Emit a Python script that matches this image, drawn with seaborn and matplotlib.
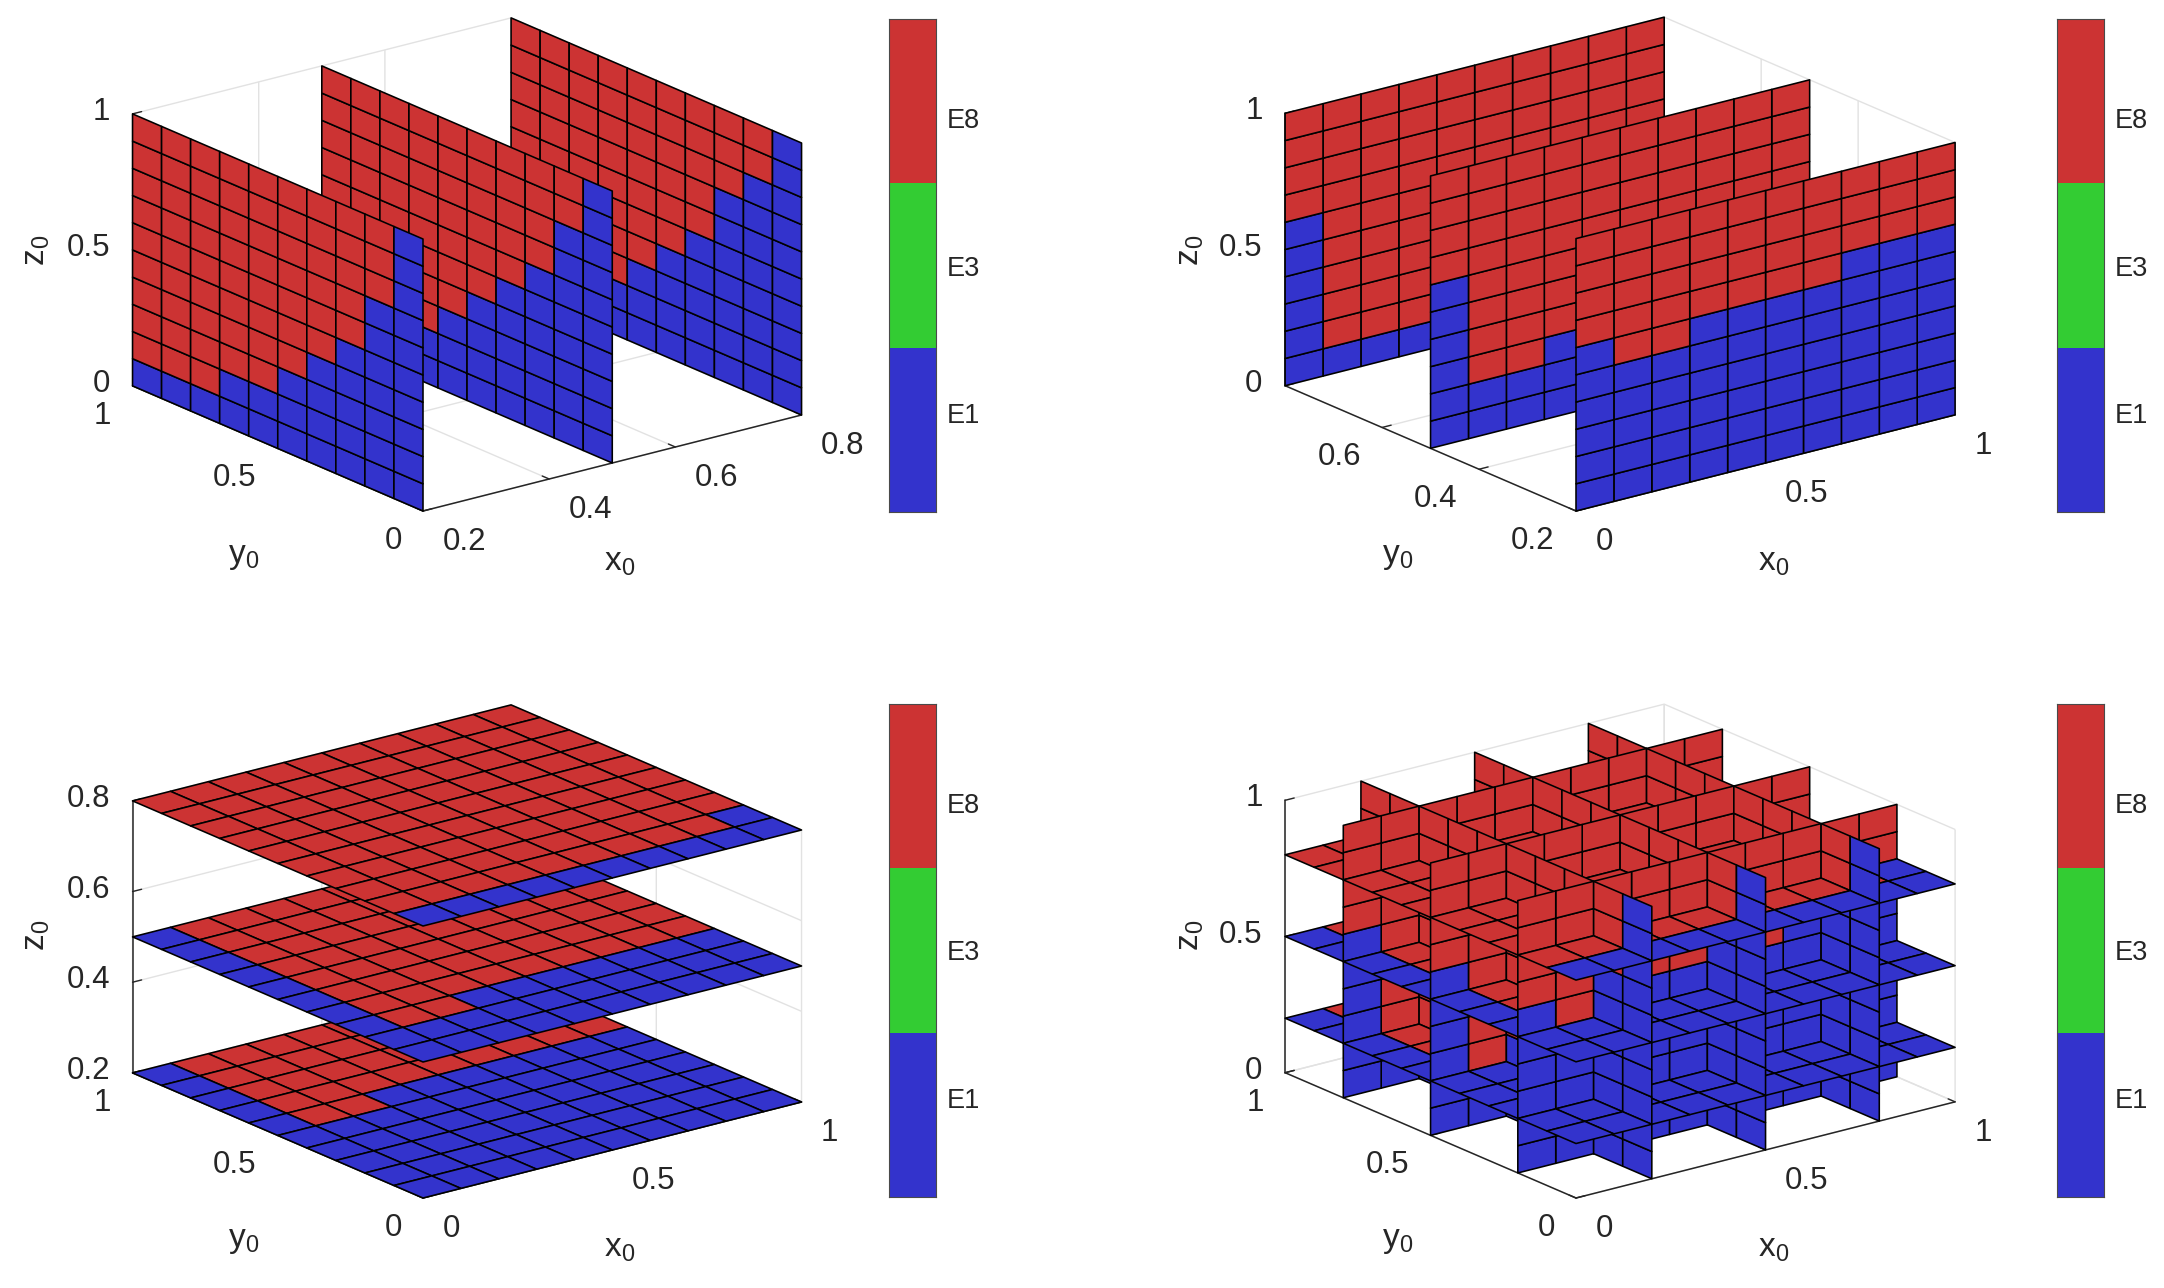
import numpy as np
import seaborn as sns
import matplotlib
matplotlib.use("Agg")
import matplotlib.pyplot as plt
from matplotlib.colors import ListedColormap
from matplotlib.transforms import Affine2D
from mpl_toolkits.mplot3d import proj3d
from mpl_toolkits.mplot3d.art3d import Poly3DCollection

# number of blue (E1) cells counted up from the low end of each strip
x_levels = [0.2, 0.5, 0.8]
x02_blue = [10, 7, 5, 4, 3, 2, 2, 1, 1, 1]
x05_blue = [10, 8, 6, 5, 4, 3, 2, 1, 1, 1]
x08_blue = [10, 8, 7, 5, 4, 3, 2, 2, 1, 1]

y_levels = [0.2, 0.5, 0.8]
y02_blue = [6, 5, 5, 6, 6, 6, 6, 7, 7, 7]
y05_blue = [6, 2, 2, 3, 3, 3, 3, 3, 3, 3]
y08_blue = [6, 1, 1, 1, 1, 1, 1, 1, 1, 1]

z_levels = [0.2, 0.5, 0.8]
z02_blue = [10, 5, 5, 6, 6, 6, 6, 6, 6, 6]
z05_blue = [10, 2, 2, 3, 3, 3, 3, 3, 3, 3]
z08_blue = [1, 1, 1, 1, 1, 1, 1, 1, 1, 2]

class_names = ["E8", "E3", "E1"]
RED, GREEN, BLUE = "#cc3333", "#33cc33", "#3333cc"
W, H = 2164, 1288

sns.set_theme(style="white")
plt.rcParams["font.family"] = ["Liberation Sans", "DejaVu Sans"]
plt.rcParams["mathtext.fontset"] = "custom"
plt.rcParams["mathtext.rm"] = "Liberation Sans"
plt.rcParams["grid.color"] = "#e2e2e2"
plt.rcParams["grid.linewidth"] = 1.0


def slice_cells(normal, level, blue):
    edges = np.linspace(0, 1, 11)
    polys, colors = [], []
    for i in range(10):
        for j in range(10):
            corners = [(edges[i], edges[j]), (edges[i + 1], edges[j]),
                       (edges[i + 1], edges[j + 1]), (edges[i], edges[j + 1])]
            if normal == "x":
                polys.append([(level, a, b) for a, b in corners])
            elif normal == "y":
                polys.append([(a, level, b) for a, b in corners])
            else:
                polys.append([(a, b, level) for a, b in corners])
            colors.append(BLUE if j < blue[i] else RED)
    return polys, colors


def corner_px(ax, x, y, z):
    X, Y, _ = proj3d.proj_transform(x, y, z, ax.get_proj())
    return ax.transData.transform((X, Y))


def nudge_labels(axis, ha, dx, dy):
    # Axis3D resets the tick transforms every time it hands out its ticks
    base = axis.get_major_ticks
    shifted = axis.axes.transData + Affine2D().translate(dx, dy)

    def get_major_ticks(numticks=None):
        ticks = base(numticks)
        for tick in ticks:
            tick.label1.set_ha(ha)
            tick.label1.set_va("center")
            tick.label1.set_transform(shifted)
        return ticks
    axis.get_major_ticks = get_major_ticks


def style_ticks(ax):
    ax.tick_params(labelsize=22.5, colors="#262626")
    ax.tick_params(axis="z", pad=1)
    nudge_labels(ax.xaxis, "left", 7, -14)
    nudge_labels(ax.yaxis, "right", -5, -14)
    nudge_labels(ax.zaxis, "right", 0, 1)
    for axis in (ax.xaxis, ax.yaxis, ax.zaxis):
        axis.set_pane_color((1, 1, 1, 0))
        axis.pane.set_edgecolor("#e2e2e2")
        axis.line.set_color("#262626")
        axis.line.set_linewidth(1.1)
        axis._axinfo["tick"]["inward_factor"] = 0.0
        axis._axinfo["tick"]["outward_factor"] = 0.3
        axis._axinfo["tick"]["linewidth"] = {True: 1.0, False: 0.5}
        axis._axinfo["tick"]["color"] = "#262626"


def draw_panel(fig, slices, xlim, ylim, zlim, xticks, yticks, zticks, left, front, right):
    side = 800.0
    ax = fig.add_axes([0.1, 0.1, side / W, side / H], projection="3d", proj_type="ortho")
    ax.view_init(elev=19.3, azim=-127.5)
    ax.set_box_aspect((1, 1, 0.604))
    ax.set_xlim(*xlim)
    ax.set_ylim(*ylim)
    ax.set_zlim(*zlim)
    ax.patch.set_alpha(0)

    # scale the axes so the box spans left..right, then slide it onto the front corner
    span = corner_px(ax, xlim[1], ylim[0], zlim[0])[0] - corner_px(ax, xlim[0], ylim[1], zlim[0])[0]
    side = side * (right - left) / span
    ax.set_position([0.1, 0.1, side / W, side / H])
    now = corner_px(ax, xlim[0], ylim[0], zlim[0])
    ax.set_position([0.1 + (front[0] - now[0]) / W, 0.1 + (H - front[1] - now[1]) / H, side / W, side / H])

    polys, colors = [], []
    for normal, level, blue in slices:
        p, c = slice_cells(normal, level, blue)
        polys += p
        colors += c
    ax.add_collection3d(Poly3DCollection(polys, facecolors=colors, edgecolors="black", linewidths=1.15))

    ax.set_xticks(xticks, [f"{t:g}" for t in xticks])
    ax.set_yticks(yticks, [f"{t:g}" for t in yticks])
    ax.set_zticks(zticks, [f"{t:g}" for t in zticks])
    style_ticks(ax)
    return ax


def draw_classbar(fig, left, top, width, height):
    ax = fig.add_axes([left / W, 1 - (top + height) / H, width / W, height / H])
    sns.heatmap(np.array([[2], [1], [0]]), ax=ax, cbar=False, cmap=ListedColormap([BLUE, GREEN, RED]),
                xticklabels=False, yticklabels=False)
    ax.yaxis.tick_right()
    ax.set_yticks([0.6, 1.5, 2.4], class_names)
    ax.tick_params(axis="y", direction="in", length=4, width=1, color="#3a3a3a", labelsize=19.5,
                   labelcolor="#262626", pad=8, labelrotation=0)
    for spine in ax.spines.values():
        spine.set_visible(True)
        spine.set_color("#4a4a4a")
        spine.set_linewidth(0.8)
    return ax


def px_text(fig, x, y, s, **kw):
    fig.text(x / W, 1 - y / H, s, ha="center", va="center", fontsize=24, color="#262626", **kw)


fig = plt.figure(figsize=(W / 100, H / 100), dpi=100, facecolor="white")

x_slices = list(zip("xxx", x_levels, [x02_blue, x05_blue, x08_blue]))
y_slices = list(zip("yyy", y_levels, [y02_blue, y05_blue, y08_blue]))
z_slices = list(zip("zzz", z_levels, [z02_blue, z05_blue, z08_blue]))

panels = [
    (x_slices, (0.2, 0.8), (0, 1), (0, 1), [0.2, 0.4, 0.6, 0.8], [0, 0.5, 1], [0, 0.5, 1], 131, (423, 511), 800),
    (y_slices, (0, 1), (0.2, 0.8), (0, 1), [0, 0.5, 1], [0.2, 0.4, 0.6], [0, 0.5, 1], 1285, (1576, 511), 1955),
    (z_slices, (0, 1), (0, 1), (0.2, 0.8), [0, 0.5, 1], [0, 0.5, 1], [0.2, 0.4, 0.6, 0.8], 131, (423, 1198), 800),
    (x_slices + y_slices + z_slices, (0, 1), (0, 1), (0, 1), [0, 0.5, 1], [0, 0.5, 1], [0, 0.5, 1], 1285, (1576, 1198), 1955),
]
for k, (slices, xlim, ylim, zlim, xt, yt, zt, left, front, right) in enumerate(panels):
    draw_panel(fig, slices, xlim, ylim, zlim, xt, yt, zt, left, front, right)
    dx = 1154 if k % 2 else 0
    dy = 685 if k > 1 else 0
    px_text(fig, 244 + dx, 556 + dy, r"$\mathrm{y_0}$")
    px_text(fig, 620 + dx, 563 + dy, r"$\mathrm{x_0}$")
    px_text(fig, 37 + dx, 250 + dy, r"$\mathrm{z_0}$", rotation=90)
    draw_classbar(fig, 889 if k % 2 == 0 else 2057, 19 if k < 2 else 704, 47, 493)

fig.savefig("out.png", dpi=100)
